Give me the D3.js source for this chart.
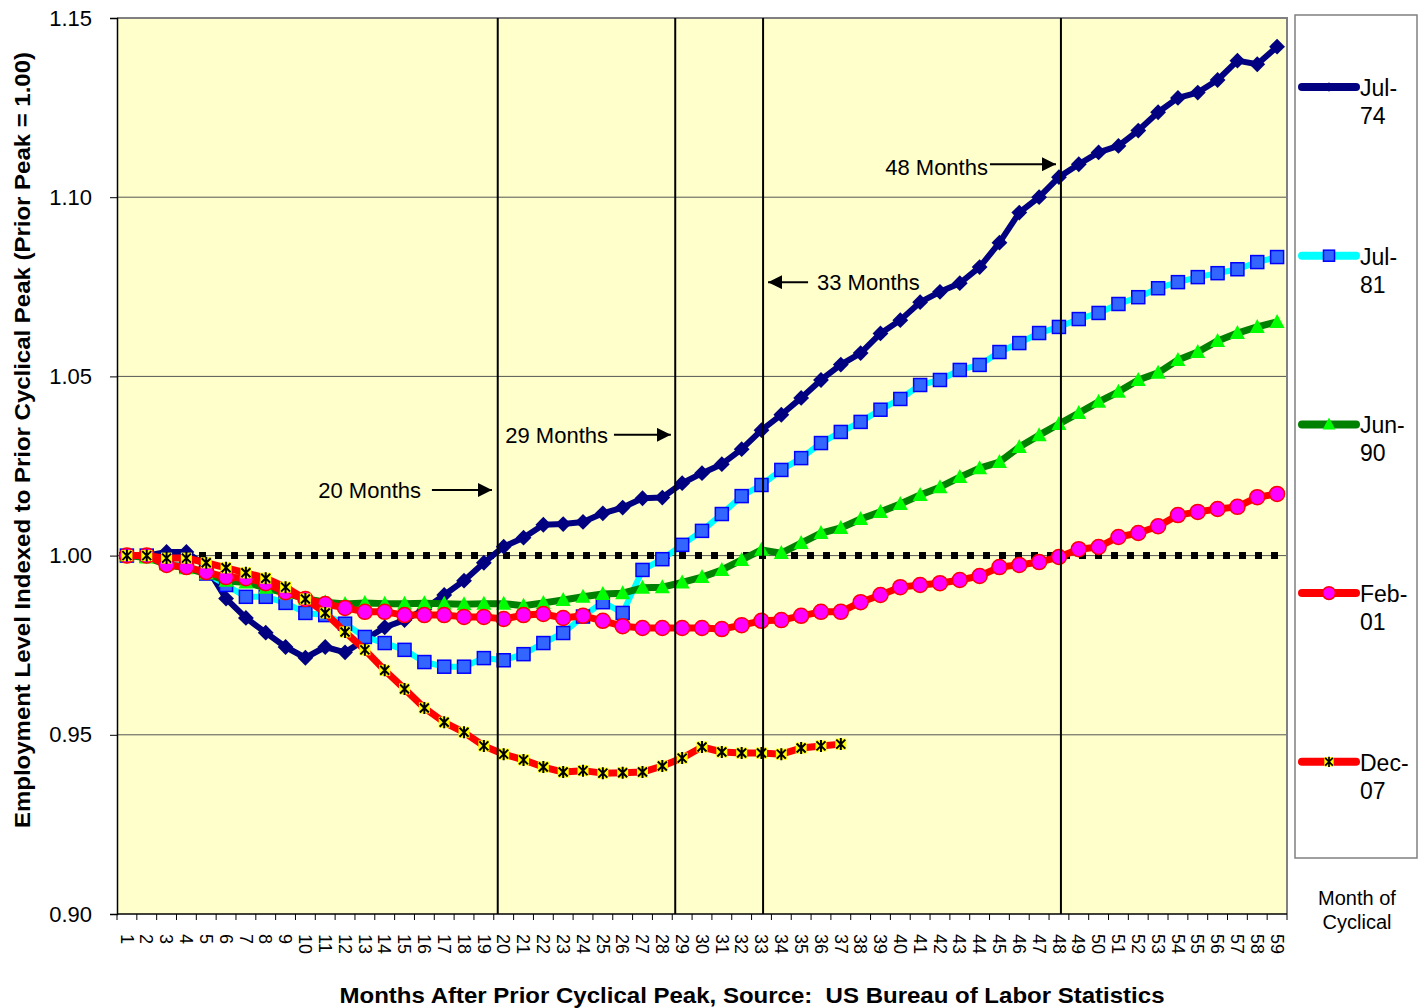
<!DOCTYPE html>
<html>
<head>
<meta charset="utf-8">
<title>Employment Level Indexed to Prior Cyclical Peak</title>
<script src="https://d3js.org/d3.v7.min.js"></script>
<style>
  body { margin: 0; background: #ffffff; }
  svg text { font-family: "Liberation Sans", Arial, sans-serif; fill: #000; }
</style>
</head>
<body>
<svg id="chart" width="1425" height="1008"></svg>
<script>
// months after prior cyclical peak (x categories)
var months = [1,2,3,4,5,6,7,8,9,10,11,12,13,14,15,16,17,18,19,20,21,22,23,24,25,26,27,28,29,30,
  31,32,33,34,35,36,37,38,39,40,41,42,43,44,45,46,47,48,49,50,51,52,53,54,55,56,57,58,59];

var yTicks = [0.90, 0.95, 1.00, 1.05, 1.10, 1.15];

// employment indexed to prior peak, one array per recession
var jul74 = [1.000,1.000,1.001,1.001,0.997,0.988,0.9826,0.9785,0.9745,0.9715,0.9745,0.973,0.9765,0.980,0.982,
  0.985,0.989,0.993,0.998,1.0025,1.005,1.0086,1.0088,1.0094,1.0118,1.0134,1.016,1.0162,1.0202,1.023,
  1.0255,1.0297,1.035,1.0393,1.044,1.049,1.0533,1.0565,1.062,1.0657,1.0707,1.0736,1.076,1.0805,1.0873,
  1.0957,1.100,1.1056,1.1092,1.1125,1.1143,1.1186,1.1237,1.1277,1.1292,1.1327,1.1381,1.1371,1.142];
var jul81 = [1.000,1.000,0.998,0.997,0.995,0.9918,0.9885,0.9885,0.9868,0.984,0.9834,0.981,0.9773,0.9756,0.9737,
  0.9703,0.969,0.969,0.9714,0.9708,0.9725,0.9756,0.9784,0.983,0.987,0.984,0.996,0.999,1.003,1.0069,
  1.0116,1.0166,1.0197,1.0239,1.0272,1.0314,1.0345,1.0373,1.0407,1.0437,1.0476,1.049,1.0518,1.0532,1.0568,
  1.0593,1.0621,1.0638,1.066,1.0677,1.0702,1.0721,1.0746,1.0763,1.0777,1.0788,1.0799,1.0819,1.0833];
var jun90 = [1.000,0.9995,0.9975,0.9965,0.995,0.993,0.9925,0.991,0.9895,0.988,0.987,0.9865,0.9868,0.9866,0.9866,
  0.9867,0.9866,0.9864,0.9866,0.9866,0.986,0.9868,0.9876,0.9885,0.9893,0.9895,0.991,0.9912,0.9925,0.994,
  0.996,0.9988,1.0016,1.0007,1.0035,1.0063,1.0077,1.0102,1.0122,1.0144,1.0169,1.0191,1.0219,1.0244,1.0261,
  1.0303,1.0336,1.0367,1.0398,1.0429,1.0457,1.049,1.051,1.0546,1.0568,1.0599,1.0621,1.0638,1.0652];
var feb01 = [1.000,1.000,0.9974,0.9968,0.9954,0.994,0.9937,0.9923,0.9898,0.9879,0.9865,0.9854,0.9843,0.9843,0.9834,
  0.9834,0.9834,0.9829,0.9829,0.9823,0.9834,0.9837,0.9826,0.9832,0.9818,0.9803,0.9798,0.9798,0.9798,0.9798,
  0.9795,0.9806,0.9818,0.982,0.9832,0.9843,0.9843,0.987,0.989,0.9912,0.9918,0.9923,0.9932,0.9943,0.9968,
  0.9974,0.9982,0.9996,1.0018,1.0024,1.0052,1.0063,1.0082,1.0113,1.0122,1.013,1.0136,1.0163,1.0172];
var dec07 = [1.000,1.000,0.9993,0.9993,0.998,0.9966,0.9952,0.9937,0.9912,0.9879,0.984,0.9787,0.9737,0.968,0.9628,
  0.9575,0.9535,0.9507,0.9469,0.9446,0.943,0.941,0.9396,0.94,0.9393,0.9394,0.9396,0.9413,0.9435,0.9466,
  0.9452,0.9449,0.9449,0.9446,0.9463,0.9469,0.9474];

var seriesNames = ["Jul-74", "Jul-81", "Jun-90", "Feb-01", "Dec-07"];
var seriesValues = [jul74, jul81, jun90, feb01, dec07];

// reference lines drawn on the chart (month position) and their notes
var markMonths = [19.7, 28.65, 33.08, 48.1];
var noteLabels = ["20 Months", "29 Months", "33 Months", "48 Months"];
var noteLevels = [1.0183, 1.0337, 1.0763, 1.1092];
var noteFrom = [16.38, 25.56, 35.35, 44.52];
var noteTo = [19.41, 28.43, 33.33, 47.85];
var noteTextAt = [15.83, 25.26, 35.80, 44.42];

var baseline = 1.00;

// ---------------------------------------------------------------
var plotL = 117, plotR = 1287, plotT = 18, plotB = 914;
var svg = d3.select("#chart");

var x = d3.scaleLinear().domain([0.5, months.length + 0.5]).range([plotL, plotR]);
var y = d3.scaleLinear().domain([0.90, 1.15]).range([plotB, plotT]);

var styles = [
  {line: "#000080", width: 6, marker: "diamond"},
  {line: "#00ffff", width: 6, marker: "square"},
  {line: "#008000", width: 7, marker: "triangle"},
  {line: "#ff0000", width: 7, marker: "circle"},
  {line: "#ff0000", width: 7, marker: "star"}
];

function drawMarker(g, kind, s) {
  s = s || 1;
  if (kind === "diamond") {
    g.append("path").attr("d", d3.symbol(d3.symbolSquare, 125 * s * s)())
      .attr("transform", "rotate(45)").attr("fill", "#000080");
  } else if (kind === "square") {
    g.append("rect").attr("x", -6.5 * s).attr("y", -6.5 * s).attr("width", 13 * s).attr("height", 13 * s)
      .attr("fill", "#3366ff").attr("stroke", "#0000ff").attr("stroke-width", 1.5);
  } else if (kind === "triangle") {
    g.append("path").attr("d", "M0," + (-8 * s) + "L" + (7.5 * s) + "," + (6 * s) + "L" + (-7.5 * s) + "," + (6 * s) + "Z")
      .attr("fill", "#00ff00");
  } else if (kind === "circle") {
    g.append("circle").attr("r", 7.5 * s).attr("fill", "#ff00ff").attr("stroke", "#ff0000").attr("stroke-width", 1.5);
  } else {
    g.append("rect").attr("x", -5.5 * s).attr("y", -5.5 * s).attr("width", 11 * s).attr("height", 11 * s).attr("fill", "#ffff00");
    g.append("path").attr("d", "M-4.5,-4.5L4.5,4.5M4.5,-4.5L-4.5,4.5M0,-6L0,6")
      .attr("transform", "scale(" + s + ")")
      .attr("stroke", "#000").attr("stroke-width", 2).attr("fill", "none");
  }
}

// plot background
svg.append("rect").attr("x", plotL).attr("y", plotT).attr("width", plotR - plotL).attr("height", plotB - plotT)
  .attr("fill", "#ffffcc");

// gridlines
svg.append("g").selectAll("line").data(yTicks.slice(1, -1)).join("line")
  .attr("x1", plotL).attr("x2", plotR)
  .attr("y1", function(d) { return y(d); }).attr("y2", function(d) { return y(d); })
  .attr("stroke", "#555").attr("stroke-width", 1);

// top / right border
svg.append("path").attr("d", "M" + plotL + "," + plotT + "H" + plotR + "V" + plotB)
  .attr("fill", "none").attr("stroke", "#808080").attr("stroke-width", 2);

// y axis
var yAxis = svg.append("g").attr("transform", "translate(" + plotL + ",0)")
  .call(d3.axisLeft(y).tickValues(yTicks).tickFormat(d3.format(".2f")).tickSize(7).tickPadding(18));
yAxis.select(".domain").attr("stroke", "#000").attr("stroke-width", 1.5);
yAxis.selectAll("text").attr("font-size", 22).attr("font-family", "Liberation Sans, Arial, sans-serif");

// x axis
svg.append("line").attr("x1", plotL).attr("x2", plotR).attr("y1", plotB).attr("y2", plotB)
  .attr("stroke", "#000").attr("stroke-width", 1.5);
svg.append("g").selectAll("line").data(d3.range(0, months.length + 1)).join("line")
  .attr("x1", function(d) { return x(d + 0.5); }).attr("x2", function(d) { return x(d + 0.5); })
  .attr("y1", plotB).attr("y2", plotB + 6).attr("stroke", "#000");
svg.append("g").selectAll("text").data(months).join("text")
  .attr("transform", function(d) { return "translate(" + x(d) + "," + (plotB + 20) + ") rotate(90)"; })
  .attr("dy", "0.35em").attr("font-size", 18).text(function(d) { return d; });

// 1.00 baseline, dotted
svg.append("line").attr("x1", plotL + 2).attr("x2", plotR).attr("y1", y(baseline)).attr("y2", y(baseline))
  .attr("stroke", "#000").attr("stroke-width", 7).attr("stroke-dasharray", "7,9");

// series
var line = d3.line().x(function(d, i) { return x(months[i]); }).y(function(d) { return y(d); });
seriesValues.forEach(function(vals, k) {
  var st = styles[k];
  var g = svg.append("g");
  g.append("path").datum(vals).attr("d", line).attr("fill", "none")
    .attr("stroke", st.line).attr("stroke-width", st.width).attr("stroke-linejoin", "round");
  g.selectAll("g.m").data(vals).join("g").attr("class", "m")
    .attr("transform", function(d, i) { return "translate(" + x(months[i]) + "," + y(d) + ")"; })
    .each(function() { drawMarker(d3.select(this), st.marker); });
});

// reference lines and notes
svg.append("defs").append("marker").attr("id", "arrow").attr("viewBox", "0 0 10 10")
  .attr("refX", 10).attr("refY", 5).attr("markerWidth", 7).attr("markerHeight", 7)
  .attr("markerUnits", "strokeWidth").attr("orient", "auto")
  .append("path").attr("d", "M0,0L10,5L0,10Z").attr("fill", "#000");

svg.append("g").selectAll("line").data(markMonths).join("line")
  .attr("x1", function(d) { return x(d); }).attr("x2", function(d) { return x(d); })
  .attr("y1", plotT).attr("y2", plotB).attr("stroke", "#000").attr("stroke-width", 2);

noteLabels.forEach(function(lbl, i) {
  svg.append("line").attr("x1", x(noteFrom[i])).attr("x2", x(noteTo[i]))
    .attr("y1", y(noteLevels[i])).attr("y2", y(noteLevels[i]))
    .attr("stroke", "#000").attr("stroke-width", 2).attr("marker-end", "url(#arrow)");
  var pointsLeft = noteTo[i] < noteFrom[i];
  svg.append("text")
    .attr("x", x(noteTextAt[i]))
    .attr("y", y(noteLevels[i]) + 8 + (i === 3 ? 3 : 0))
    .attr("text-anchor", pointsLeft ? "start" : "end")
    .attr("font-size", 22).text(lbl);
});

// axis titles
svg.append("text").attr("transform", "translate(22,440) rotate(-90)")
  .attr("text-anchor", "middle").attr("dy", "0.35em").attr("font-size", 22).attr("font-weight", "bold")
  .attr("textLength", 776).attr("lengthAdjust", "spacingAndGlyphs")
  .text("Employment Level Indexed to Prior Cyclical Peak (Prior Peak = 1.00)");
svg.append("text").attr("x", 752).attr("y", 1003).attr("text-anchor", "middle")
  .attr("font-size", 22).attr("font-weight", "bold").style("white-space", "pre")
  .attr("textLength", 825).attr("lengthAdjust", "spacingAndGlyphs")
  .text("Months After Prior Cyclical Peak, Source:  US Bureau of Labor Statistics");

// legend
var lg = svg.append("g");
lg.append("rect").attr("x", 1295).attr("y", 15).attr("width", 122).attr("height", 843)
  .attr("fill", "#fff").attr("stroke", "#808080").attr("stroke-width", 1.5);
seriesNames.forEach(function(name, i) {
  var ly = 87 + i * 168.7;
  var st = styles[i];
  lg.append("line").attr("x1", 1302).attr("x2", 1356).attr("y1", ly).attr("y2", ly)
    .attr("stroke", st.line).attr("stroke-width", 8).attr("stroke-linecap", "round");
  var m = lg.append("g").attr("transform", "translate(1329," + ly + ")");
  drawMarker(m, st.marker, st.marker === "diamond" ? 0.6 : 0.85);
  var parts = name.split("-");
  lg.append("text").attr("x", 1360).attr("y", ly + 9).attr("font-size", 23).text(parts[0] + "-");
  lg.append("text").attr("x", 1360).attr("y", ly + 37).attr("font-size", 23).text(parts[1]);
});
lg.append("text").attr("x", 1357).attr("y", 905).attr("text-anchor", "middle").attr("font-size", 20).text("Month of");
lg.append("text").attr("x", 1357).attr("y", 929).attr("text-anchor", "middle").attr("font-size", 20).text("Cyclical");
</script>
</body>
</html>
